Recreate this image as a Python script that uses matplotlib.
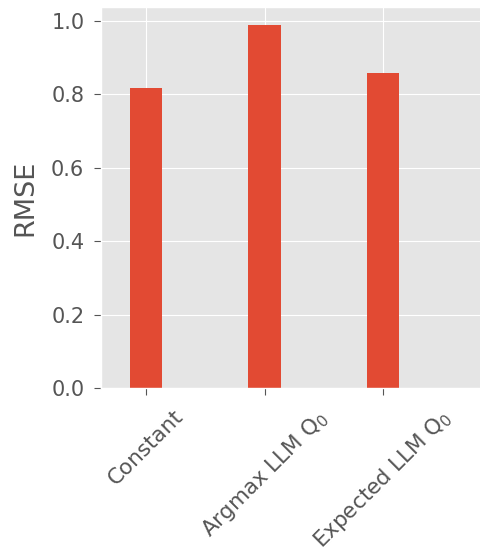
import matplotlib
matplotlib.use("Agg")
import matplotlib.pyplot as plt

plt.style.use("ggplot")

methods = ["Constant", "Argmax LLM Q$_0$", "Expected LLM Q$_0$"]
rmse = [0.819, 0.989, 0.859]

fig = plt.figure(figsize=(4.8, 5.59), dpi=100)
ax = fig.add_axes([0.2104, 0.3059, 0.80, 0.6816])

x = list(range(len(methods)))
ax.bar(x, rmse, width=0.275, color="#E24A33")

ax.set_xlim(-0.38, 2.86)
ax.set_ylim(0, 0.989 * 1.05)
ax.set_xticks(x)
ax.set_xticklabels(methods, rotation=45, ha="center", fontsize=15.5)
ax.set_yticks([0.0, 0.2, 0.4, 0.6, 0.8, 1.0])
ax.tick_params(axis="y", labelsize=15, length=5, pad=7)
ax.tick_params(axis="x", length=5, pad=8)
ax.set_ylabel("RMSE", fontsize=19.5, labelpad=9)

fig.savefig("out.png", dpi=100)
